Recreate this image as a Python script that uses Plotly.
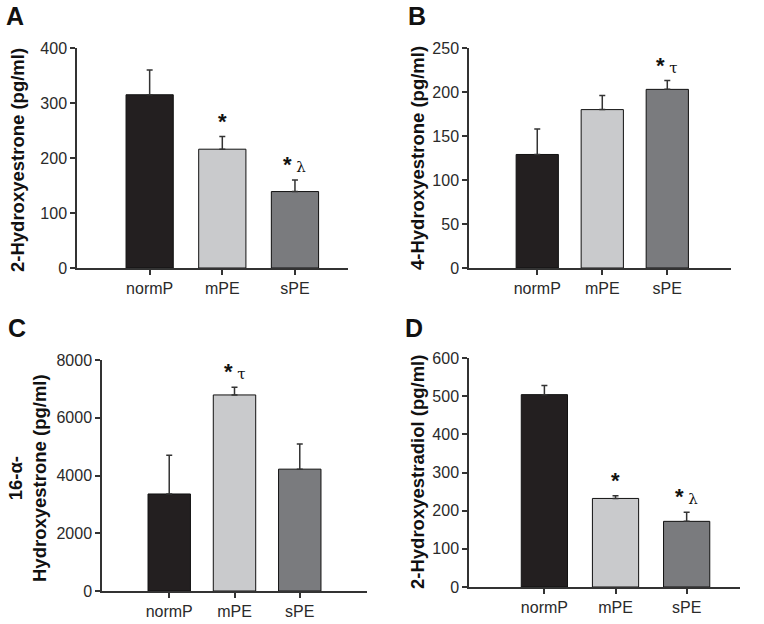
import plotly.graph_objects as go

groups = ["normP", "mPE", "sPE"]
bar_colors = ["#231f20", "#c9cacc", "#7a7b7e"]

# panel A: 2-hydroxyestrone
a_mean = [315, 216, 139]
a_err = [45, 23, 21]
a_sig = ["", "*", "*λ"]

# panel B: 4-hydroxyestrone
b_mean = [129, 180, 203]
b_err = [29, 16, 10]
b_sig = ["", "", "*τ"]

# panel C: 16-alpha-hydroxyestrone
c_mean = [3360, 6790, 4220]
c_err = [1340, 270, 870]
c_sig = ["", "*τ", ""]

# panel D: 2-hydroxyestradiol
d_mean = [504, 232, 172]
d_err = [24, 7, 24]
d_sig = ["", "*", "*λ"]

W, H = 764, 624
FONT = "Liberation Sans, Arial, sans-serif"
INK = "#2a2a2a"

# pixel boxes of each plot area: (x0, x1, ytop, ybottom)
panels = [
    dict(letter="A", mean=a_mean, err=a_err, sig=a_sig, box=(77, 348, 48, 268),
         xr=[-1.0, 2.73], yr=[0, 400], dt=100,
         title="2-Hydroxyestrone (pg/ml)", tx=17, ty=160, lx=4, ly=0),
    dict(letter="B", mean=b_mean, err=b_err, sig=b_sig, box=(469, 731, 48, 268),
         xr=[-1.05, 2.98], yr=[0, 250], dt=50,
         title="4-Hydroxyestrone (pg/ml)", tx=417, ty=158, lx=406, ly=0),
    dict(letter="C", mean=c_mean, err=c_err, sig=c_sig, box=(102, 367, 360, 591),
         xr=[-1.03, 3.03], yr=[0, 8000], dt=2000,
         title="16-α-<br>Hydroxyestrone (pg/ml)", tx=27, ty=478, lx=6, ly=312),
    dict(letter="D", mean=d_mean, err=d_err, sig=d_sig, box=(469, 740, 358, 587),
         xr=[-1.06, 2.75], yr=[0, 600], dt=100,
         title="2-Hydroxyestradiol (pg/ml)", tx=417, ty=472, lx=403, ly=312),
]

fig = go.Figure()

for i, p in enumerate(panels, start=1):
    sfx = "" if i == 1 else str(i)
    x0, x1, yt, yb = p["box"]
    xpos = list(range(len(groups)))
    fig.add_trace(go.Bar(
        x=xpos, y=p["mean"], width=0.65,
        marker=dict(color=bar_colors, line=dict(color="#111", width=1)),
        error_y=dict(type="data", symmetric=False, array=p["err"],
                     arrayminus=[0] * len(groups), color="#333",
                     thickness=1.5, width=3),
        xaxis="x" + sfx, yaxis="y" + sfx, showlegend=False,
    ))
    axis_common = dict(showline=True, linecolor="#333", linewidth=1.5,
                       ticks="outside", ticklen=5, tickwidth=1.5, tickcolor="#333",
                       showgrid=False, zeroline=False, automargin=False,
                       tickfont=dict(family=FONT, size=16, color=INK))
    fig.layout["xaxis" + sfx] = dict(
        domain=[x0 / W, x1 / W], range=p["xr"], anchor="y" + sfx,
        tickvals=xpos, ticktext=groups, **axis_common)
    fig.layout["yaxis" + sfx] = dict(
        domain=[1 - yb / H, 1 - yt / H], range=p["yr"], dtick=p["dt"],
        anchor="x" + sfx, **axis_common)

    # significance marks
    for j, s in enumerate(p["sig"]):
        if not s:
            continue
        txt = "<b>*</b>"
        if len(s) > 1:
            txt += "<span style='font-size:15px;font-family:DejaVu Serif'> " + s[1] + "</span>"
        fig.add_annotation(x=j, y=p["mean"][j] + p["err"][j],
                           xref="x" + sfx, yref="y" + sfx,
                           text=txt, showarrow=False, yanchor="bottom",
                           xanchor="center", yshift=1,
                           font=dict(family=FONT, size=22, color="#111"))

    # y axis title
    fig.add_annotation(x=p["tx"] / W, y=1 - p["ty"] / H, xref="paper", yref="paper",
                       text="<b>" + p["title"] + "</b>", textangle=-90,
                       showarrow=False, xanchor="center", yanchor="middle",
                       font=dict(family=FONT, size=18.5, color="#111"))
    # panel letter
    fig.add_annotation(x=p["lx"] / W, y=1 - p["ly"] / H, xref="paper", yref="paper",
                       text="<b>" + p["letter"] + "</b>", showarrow=False,
                       xanchor="left", yanchor="top",
                       font=dict(family=FONT, size=25, color="#111"))

fig.update_layout(width=W, height=H, margin=dict(l=0, r=0, t=0, b=0),
                  paper_bgcolor="white", plot_bgcolor="white", bargap=0.35)

# page body has a default 8px margin; drop it so the figure sits at the corner
fig.write_html("out.html", config={"displayModeBar": False},
               post_script="document.body.style.margin='0';")
